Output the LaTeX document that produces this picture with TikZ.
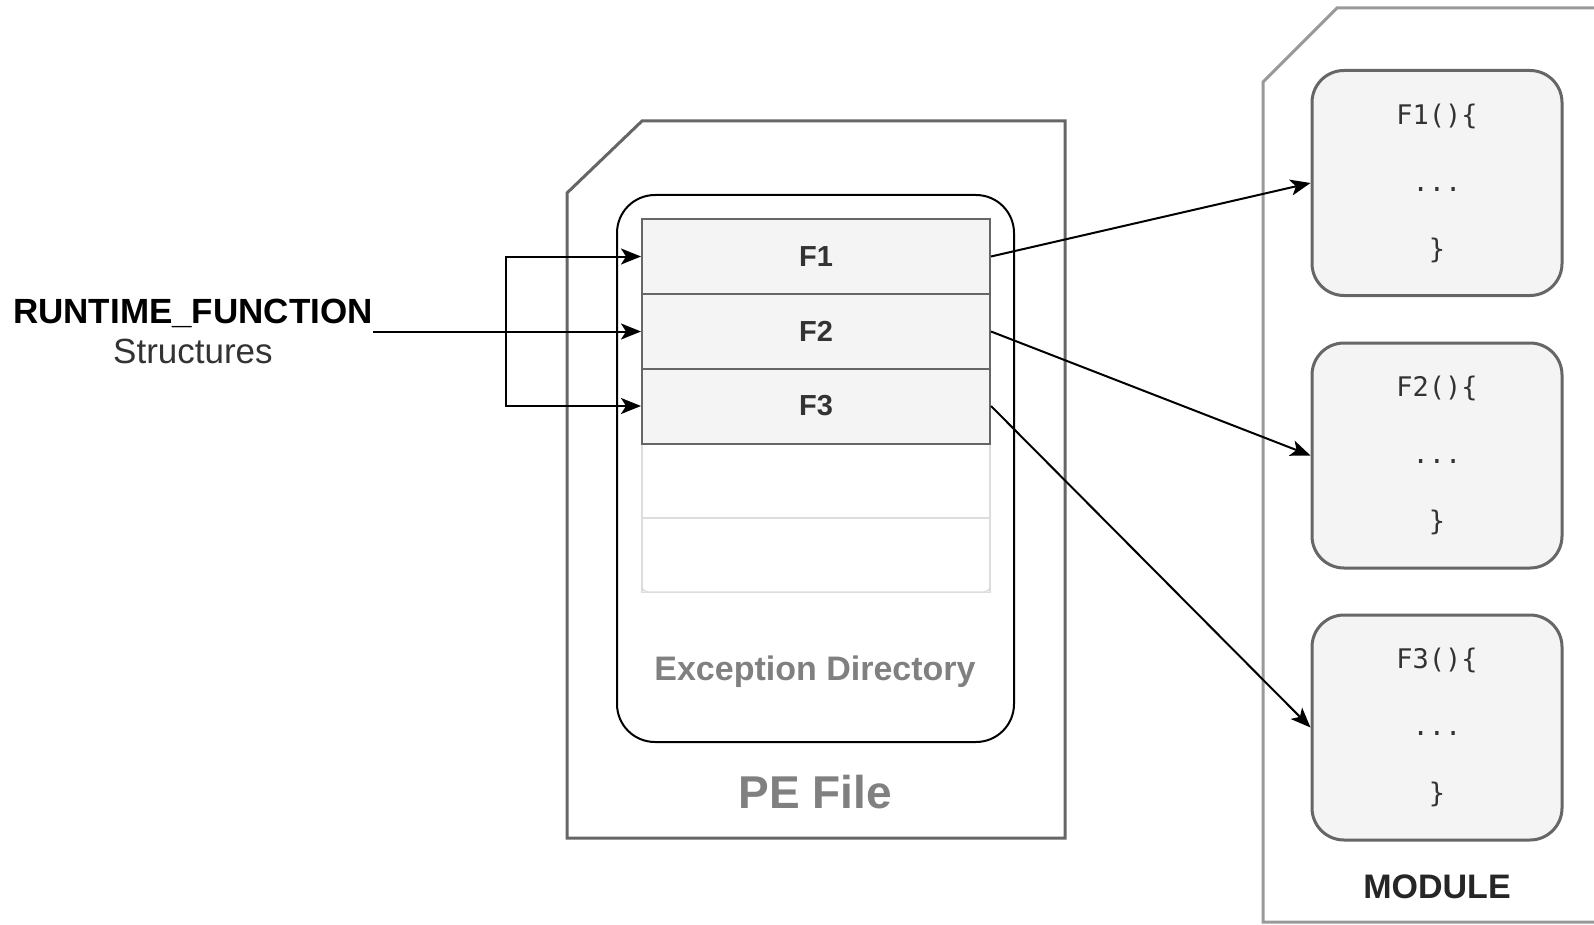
\documentclass[tikz,border=0pt]{standalone}
\usepackage{fontspec}
\setmainfont{Liberation Sans}
\newfontfamily\monof{DejaVu Sans Mono}
\usetikzlibrary{arrows.meta}
\definecolor{pegray}{HTML}{666666}
\definecolor{modgray}{HTML}{999999}
\definecolor{boxfill}{HTML}{F4F4F4}
\definecolor{lightrow}{HTML}{DDDDDD}
\definecolor{txtgray}{HTML}{808080}
\definecolor{darktxt}{HTML}{333333}
\tikzset{
  arr/.style={draw=black, line width=2pt, -{Stealth[length=20pt,width=16pt,inset=5pt]}},
  frow/.style={draw=pegray, fill=boxfill, line width=2pt, minimum width=348pt, minimum height=75pt,
    inner sep=0pt, font=\fontsize{29}{34}\selectfont\bfseries, text=darktxt},
  erow/.style={draw=lightrow, line width=1.5pt, minimum width=348pt, minimum height=75pt, inner sep=0pt},
  fbox/.style={draw=pegray, fill=boxfill, line width=3pt, rounded corners=32pt, minimum width=250pt,
    minimum height=225pt, align=center, inner sep=0pt, text=darktxt, font=\monof\fontsize{27}{67}\selectfont},
}
\begin{document}
\begin{tikzpicture}[x=1pt,y=-1pt]
\useasboundingbox (0,0) rectangle (1594,925);
% module outline
\begin{scope}
\clip (0,0) rectangle (1594,925);
\draw[modgray, line width=3pt, line join=miter] (1263,922) -- (1263,82) -- (1337,8) -- (1640,8) -- (1640,922) -- cycle;
\end{scope}
% PE file outline
\draw[pegray, line width=3pt] (567,838) -- (567,193) -- (642,121) -- (1065,121) -- (1065,838) -- cycle;
% exception directory
\node[draw=black, line width=2pt, rounded corners=38pt, minimum width=397pt, minimum height=547pt] (ed) at (815.5,468.5) {};
% table
\draw[lightrow, line width=1.5pt, rounded corners=6pt] (642,219) rectangle (990,592);
\node[erow] (r4) at (816,480.5) {};
\node[erow] (r5) at (816,555) {};
\node[frow] (F1) at (816,256.5) {F1};
\node[frow] (F2) at (816,331.5) {F2};
\node[frow] (F3) at (816,406) {F3};
\node[text=txtgray, font=\fontsize{34}{40}\selectfont\bfseries, anchor=base, inner sep=0pt] (edl) at (815,680) {Exception Directory};
\node[text=txtgray, font=\fontsize{46}{52}\selectfont\bfseries, anchor=base, inner sep=0pt] (pel) at (815,808) {PE File};
% label
\node[align=center, anchor=east, inner sep=0pt, font=\fontsize{35}{40}\selectfont] (rf) at (373,331)
  {\textbf{RUNTIME\_FUNCTION}\\\textcolor{darktxt}{Structures}};
% module boxes
\node[fbox] (m1) at (1437,183) {F1()\{\\...\\\}};
\node[fbox] (m2) at (1437,455.5) {F2()\{\\...\\\}};
\node[fbox] (m3) at (1437,727.5) {F3()\{\\...\\\}};
\node[font=\fontsize{34}{40}\selectfont\bfseries, text=black!85, anchor=base, inner sep=0pt] (modl) at (1437,898) {MODULE};
% connectors
\coordinate (j) at (506,331.5);
\draw[arr] (rf.east |- F2.west) -- (F2.west);
\draw[arr] (j) |- (F1.west);
\draw[arr] (j) |- (F3.west);
\draw[arr] (F1.east) -- (m1.west);
\draw[arr] (F2.east) -- (m2.west);
\draw[arr] (F3.east) -- (m3.west);
\end{tikzpicture}
\end{document}
